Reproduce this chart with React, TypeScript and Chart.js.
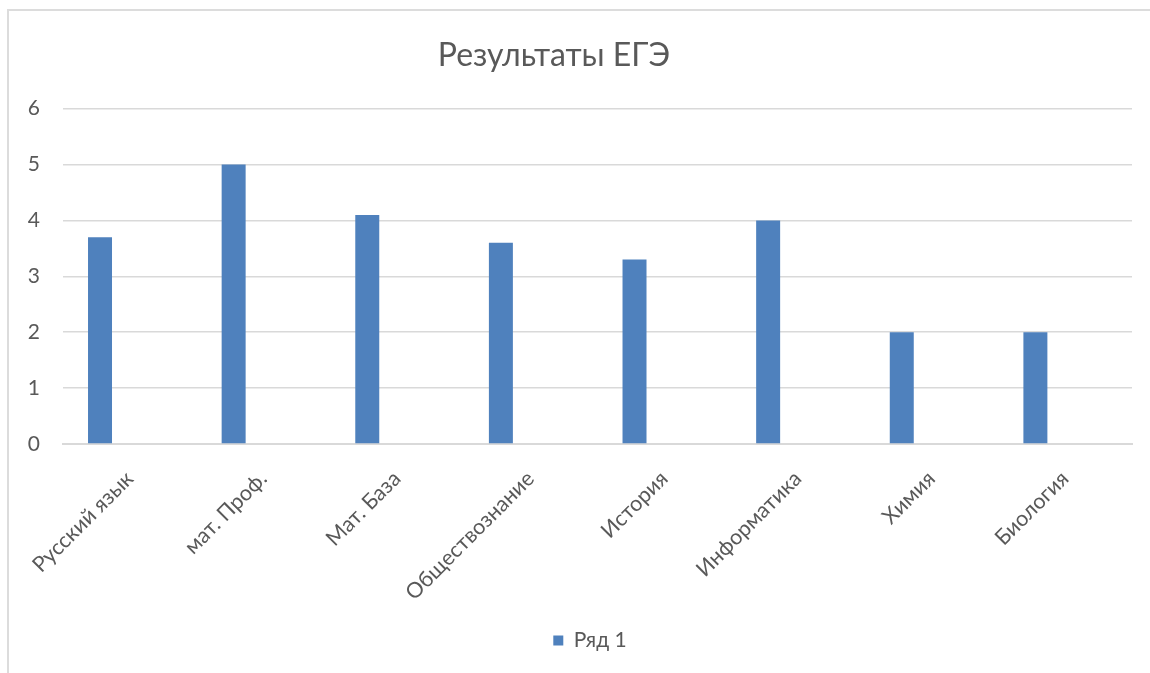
import React, { useEffect, useRef } from "react";
import { Chart, registerables } from "chart.js";

Chart.register(...registerables);

const chartTitle = "Результаты ЕГЭ";
const categories = [
  "Русский язык",
  "мат. Проф.",
  "Мат. База",
  "Обществознание",
  "История",
  "Информатика",
  "Химия",
  "Биология",
];
const seriesNames = ["Ряд 1", "Ряд 2", "Ряд 3"];
const series1 = [3.7, 5, 4.1, 3.6, 3.3, 4, 2, 2];
const series2: (number | null)[] = [null, null, null, null, null, null, null, null];
const series3: (number | null)[] = [null, null, null, null, null, null, null, null];
const yMin = 0;
const yMax = 6;
const yStep = 1;

const FONT = "Lato, 'Open Sans', sans-serif";
const TEXT = "#595959";
const GRID = "#d9d9d9";
const BAR = "#4f81bd";

// Shift title / legend horizontally like the Excel original (title slightly left, legend right).
const shiftPlugin = {
  id: "shiftBlocks",
  afterLayout(chart: any) {
    const t = chart.titleBlock;
    if (t) {
      t.left -= 12;
      t.right -= 12;
    }
    const l = chart.legend;
    if (l) {
      l.left += 24;
      l.right += 24;
    }
  },
};

export default function App() {
  const canvasRef = useRef<HTMLCanvasElement | null>(null);

  useEffect(() => {
    if (!canvasRef.current) return;
    const chart = new Chart(canvasRef.current, {
      type: "bar",
      data: {
        labels: categories,
        datasets: [
          { label: seriesNames[0], data: series1, backgroundColor: BAR, borderWidth: 0 },
          { label: seriesNames[1], data: series2, backgroundColor: "#c0504d", borderWidth: 0 },
          { label: seriesNames[2], data: series3, backgroundColor: "#9bbb59", borderWidth: 0 },
        ],
      },
      plugins: [shiftPlugin],
      options: {
        animation: false,
        responsive: false,
        maintainAspectRatio: false,
        layout: { padding: { left: 0, right: 18, top: 0, bottom: 12 } },
        datasets: {
          bar: { categoryPercentage: 0.669, barPercentage: 0.805 },
        },
        plugins: {
          title: {
            display: true,
            text: chartTitle,
            color: TEXT,
            font: { family: FONT, size: 32, weight: "normal", lineHeight: 1.2 },
            padding: { top: 36.8, bottom: 33.5 },
          },
          legend: {
            display: true,
            position: "bottom",
            labels: {
              color: TEXT,
              font: { family: FONT, size: 21 },
              boxWidth: 10,
              boxHeight: 10,
              filter: (item: any) => item.datasetIndex === 0,
            },
          },
          tooltip: { enabled: false },
        },
        scales: {
          x: {
            grid: { display: false, drawTicks: false },
            border: { display: true, color: GRID, width: 2 },
            ticks: {
              color: TEXT,
              font: { family: FONT, size: 21.5 },
              minRotation: 45,
              maxRotation: 45,
              autoSkip: false,
              padding: 22,
            },
            afterFit: (scale: any) => {
              scale.height = 176;
            },
          },
          y: {
            min: yMin,
            max: yMax,
            grid: { color: GRID, lineWidth: 1.5, drawTicks: false },
            border: { display: false },
            ticks: {
              stepSize: yStep,
              color: TEXT,
              font: { family: FONT, size: 21 },
              padding: 23,
            },
            afterFit: (scale: any) => {
              scale.width = 63;
            },
          },
        },
      },
    });
    return () => chart.destroy();
  }, []);

  return (
    <div style={{ position: "absolute", left: 0, top: 0, width: 1150, height: 673, background: "#fff" }}>
      <div
        style={{
          position: "absolute",
          left: 7,
          top: 9,
          width: 1143,
          height: 664,
          borderLeft: "2px solid #dcdcdc",
          borderTop: "2px solid #dcdcdc",
          boxSizing: "border-box",
        }}
      />
      <canvas ref={canvasRef} width={1150} height={673} style={{ position: "absolute", left: 0, top: 0 }} />
    </div>
  );
}
